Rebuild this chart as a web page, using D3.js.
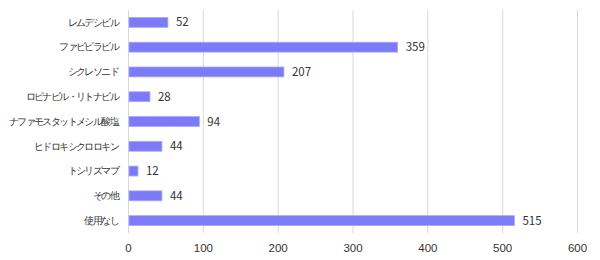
<!DOCTYPE html>
<meta charset="utf-8">
<script src="https://d3js.org/d3.v7.min.js"></script>
<style>
    body { margin: 0; background: #fff; }
    svg { font-family: "Noto Sans CJK JP", "Noto Sans", sans-serif; }
</style>
<div id="chart"></div>
<script>
    var categories = ["レムデシビル", "ファビピラビル", "シクレソニド", "ロピナビル・リトナビル",
                      "ナファモスタットメシル酸塩", "ヒドロキシクロロキン", "トシリズマブ", "その他", "使用なし"];
    var counts = [52, 359, 207, 28, 94, 44, 12, 44, 515];
    var xTicks = [0, 100, 200, 300, 400, 500, 600];

    var width = 600, height = 260,
        margin = { top: 10, right: 23, bottom: 27, left: 128 };

    var svg = d3.select("#chart").append("svg")
        .attr("width", width).attr("height", height);

    var x = d3.scaleLinear().domain([0, 600]).range([margin.left, width - margin.right]);
    var y = d3.scaleBand().domain(categories)
        .range([margin.top, height - margin.bottom]).paddingInner(0.6).paddingOuter(0.3);

    // grid lines
    svg.append("g").selectAll("line").data(xTicks).join("line")
        .attr("x1", function(d) { return x(d) + 0.5; })
        .attr("x2", function(d) { return x(d) + 0.5; })
        .attr("y1", margin.top).attr("y2", height - margin.bottom)
        .attr("stroke", "#d9d9d9").attr("stroke-width", 1);

    // x axis labels
    svg.append("g").attr("transform", "translate(0," + (height - margin.bottom) + ")")
        .call(d3.axisBottom(x).tickValues(xTicks).tickSize(0).tickPadding(11))
        .call(function(g) { g.select(".domain").remove(); })
        .selectAll("text").attr("font-size", 11.5).attr("fill", "#333");

    // category labels (tight spacing, the japanese labels are long)
    svg.append("g").attr("transform", "translate(" + margin.left + ",0)")
        .call(d3.axisLeft(y).tickSize(0).tickPadding(10))
        .call(function(g) { g.select(".domain").remove(); })
        .selectAll("text").attr("font-size", 10.2).attr("letter-spacing", "-1.6px").attr("fill", "#333");

    // bars
    svg.append("g").selectAll("rect").data(counts).join("rect")
        .attr("x", x(0) + 1)
        .attr("y", function(d, i) { return y(categories[i]); })
        .attr("width", function(d) { return x(d) - x(0); })
        .attr("height", y.bandwidth())
        .attr("fill", "#7b7bf7")
        .attr("stroke", "#a9a9fa").attr("stroke-width", 0.8);

    // value labels
    svg.append("g").selectAll("text").data(counts).join("text")
        .attr("x", function(d) { return x(d) + 9; })
        .attr("y", function(d, i) { return y(categories[i]) + y.bandwidth() / 2; })
        .attr("dy", "0.35em")
        .attr("font-size", 11.5).attr("fill", "#333")
        .text(function(d) { return d; });
</script>
